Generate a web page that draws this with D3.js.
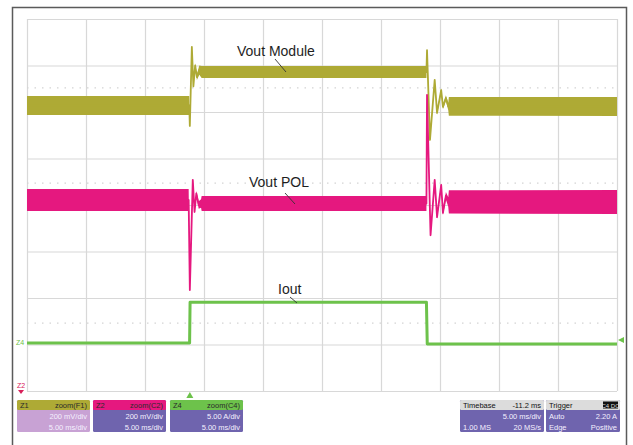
<!DOCTYPE html>
<html>
<head>
<meta charset="utf-8">
<script src="https://cdn.jsdelivr.net/npm/d3@7"></script>
<style>
  html, body { margin: 0; padding: 0; background: #fff; }
  svg { display: block; font-family: "Liberation Sans", Arial, sans-serif; }
</style>
</head>
<body>
<svg id="scope" width="633" height="445"></svg>
<script>
// Time axis: ms relative to the trigger (5 ms/div, 10 divisions, timebase -11.2 ms)
const timeDomain = [-13.8, 36.2];
const msPerDiv = 5;
// Vertical axis in screen divisions (8 divisions, centre = 0)
const divDomain = [-4, 4];

// Each trace: time (ms), centre level (div), half-width of the noise band (div)
const moduleTime   = [-13.8, -0.05, 0.0, 0.17, 0.3, 0.45, 0.6, 0.8, 1.0, 20.05, 20.1, 20.35, 20.75, 20.95, 21.3, 21.45, 21.7, 21.9, 21.95, 36.2];
const moduleLevel  = [2.14, 2.14, 1.70, 3.40, 2.55, 3.00, 2.75, 2.90, 2.86, 2.86, 3.33, 1.40, 2.69, 1.98, 2.47, 2.11, 2.30, 2.12, 2.12, 2.12];
const moduleNoise  = [0.204, 0.204, 0.03, 0.03, 0.03, 0.05, 0.06, 0.10, 0.13, 0.13, 0.03, 0.03, 0.03, 0.04, 0.04, 0.05, 0.06, 0.08, 0.20, 0.204];

const polTime  = [-13.8, -0.1, 0.0, 0.25, 0.4, 0.55, 0.75, 0.95, 1.0, 20.05, 20.1, 20.4, 20.75, 20.95, 21.3, 21.45, 21.7, 21.9, 21.95, 36.2];
const polLevel = [0.108, 0.108, -1.83, 0.54, -0.15, 0.25, 0.0, 0.032, 0.032, 0.032, 2.37, -0.65, 0.54, -0.26, 0.43, -0.17, 0.20, 0.065, 0.065, 0.065];
const polNoise = [0.237, 0.237, 0.03, 0.03, 0.03, 0.05, 0.08, 0.09, 0.16, 0.16, 0.03, 0.03, 0.03, 0.04, 0.04, 0.05, 0.08, 0.10, 0.25, 0.258];

const ioutTime  = [-13.8, -0.02, 0.02, 20.05, 20.12, 36.2];
const ioutLevel = [-2.97, -2.97, -2.09, -2.09, -2.99, -2.99];
const ioutNoise = [0.02, 0.02, 0.02, 0.02, 0.02, 0.02];

// Faint dotted reference levels (div)
const refLevels = [2.52, 0.47, -2.54];

// Trace annotations
const labelNames = ["Vout Module", "Vout POL", "Iout"];

// Readout boxes
const zoomNames   = ["Z1", "Z2", "Z4"];
const zoomSources = ["zoom(F1)", "zoom(C2)", "zoom(C4)"];
const zoomVScale  = ["200 mV/div", "200 mV/div", "5.00 A/div"];
const zoomHScale  = ["5.00 ms/div", "5.00 ms/div", "5.00 ms/div"];
const timebaseText = ["Timebase", "-11.2 ms", "5.00 ms/div", "1.00 MS", "20 MS/s"];
const triggerText  = ["Trigger", "Auto", "2.20 A", "Edge", "Positive"];

const colors = { module: "#aeaa35", pol: "#e5187f", iout: "#6dc24b", grid: "#d8d8d8" };

const svg = d3.select("#scope");
const plot = { left: 27, right: 617, top: 19, bottom: 391 };

const x = d3.scaleLinear().domain(timeDomain).range([plot.left, plot.right]);
const y = d3.scaleLinear().domain(divDomain).range([plot.bottom, plot.top]);

// Outer instrument frame
svg.append("rect")
  .attr("x", 12.5).attr("y", 7.5).attr("width", 614).attr("height", 460)
  .attr("fill", "#fff").attr("stroke", "#5a5a5a").attr("stroke-width", 1.5);

// Graticule via axes
const xGridVals = d3.range(11).map(i => timeDomain[0] + i * msPerDiv);
const yGridVals = d3.range(divDomain[0], divDomain[1] + 1);

const gx = svg.append("g").attr("transform", `translate(0,${plot.bottom})`)
  .call(d3.axisBottom(x).tickValues(xGridVals).tickSize(-(plot.bottom - plot.top)).tickFormat(""));
const gy = svg.append("g").attr("transform", `translate(${plot.left},0)`)
  .call(d3.axisLeft(y).tickValues(yGridVals).tickSize(-(plot.right - plot.left)).tickFormat(""));
[gx, gy].forEach(g => {
  g.select(".domain").remove();
  g.selectAll("line").attr("stroke", colors.grid).attr("stroke-width", 1.2);
});

// Dotted reference levels
svg.append("g").selectAll("line").data(refLevels).join("line")
  .attr("x1", plot.left).attr("x2", plot.right)
  .attr("y1", d => y(d)).attr("y2", d => y(d))
  .attr("stroke", "#d4d4d4").attr("stroke-width", 1.2).attr("stroke-dasharray", "1.5,6");

// Trace drawing: noise band + centre stroke
function makeTrace(t, lvl, noise) {
  return t.map((d, i) => ({ t: d, v: lvl[i], n: noise[i] }));
}
const traces = [
  { data: makeTrace(moduleTime, moduleLevel, moduleNoise), color: colors.module, w: 1.8 },
  { data: makeTrace(polTime, polLevel, polNoise), color: colors.pol, w: 1.8 },
  { data: makeTrace(ioutTime, ioutLevel, ioutNoise), color: colors.iout, w: 3 }
];

const area = d3.area().x(d => x(d.t)).y0(d => y(d.v - d.n)).y1(d => y(d.v + d.n));
const line = d3.line().x(d => x(d.t)).y(d => y(d.v));

const tg = svg.append("g");
traces.forEach(tr => {
  tg.append("path").attr("d", area(tr.data)).attr("fill", tr.color);
  tg.append("path").attr("d", line(tr.data)).attr("fill", "none")
    .attr("stroke", tr.color).attr("stroke-width", tr.w).attr("stroke-linejoin", "round");
});

// Annotations with leader lines
const labelPos = [
  { tx: 237, ty: 56, l: [[275, 59], [286, 72]] },
  { tx: 249, ty: 187, l: [[285, 193], [295, 204]] },
  { tx: 278, ty: 294, l: [[290, 297], [297, 303]] }
];
labelNames.forEach((name, i) => {
  const p = labelPos[i];
  svg.append("text").attr("x", p.tx).attr("y", p.ty)
    .attr("font-size", 14).attr("fill", "#1e1e1e").text(name);
  svg.append("line")
    .attr("x1", p.l[0][0]).attr("y1", p.l[0][1]).attr("x2", p.l[1][0]).attr("y2", p.l[1][1])
    .attr("stroke", "#333").attr("stroke-width", 0.9);
});

// Channel markers
svg.append("text").attr("x", 16).attr("y", 345).attr("font-size", 7)
  .attr("fill", colors.iout).text(zoomNames[2]);
svg.append("text").attr("x", 17).attr("y", 388).attr("font-size", 7)
  .attr("fill", "#d8205a").text(zoomNames[1]);
svg.append("path").attr("d", "M18,390 L24,390 L21,394 Z").attr("fill", "#d8205a");
svg.append("path").attr("d", `M${plot.right + 7},${y(ioutLevel[ioutLevel.length - 1]) - 7} l-6,3 l6,3 Z`)
  .attr("fill", colors.iout);
svg.append("path").attr("d", `M${x(0)},${plot.bottom + 1} l-3.5,6 l7,0 Z`).attr("fill", colors.iout);

// Readout boxes
const boxY = 400, headH = 10, rowH = 11;
function box(x0, w, headColor, bodyColor, headLeft, headRight, rows, headTextColor) {
  const g = svg.append("g").attr("font-size", 7.5);
  g.append("rect").attr("x", x0).attr("y", boxY).attr("width", w).attr("height", headH + 2 * rowH)
    .attr("rx", 1.5).attr("fill", bodyColor);
  g.append("rect").attr("x", x0).attr("y", boxY).attr("width", w).attr("height", headH)
    .attr("rx", 1.5).attr("fill", headColor);
  g.append("text").attr("x", x0 + 3).attr("y", boxY + 8).attr("fill", headTextColor).text(headLeft);
  g.append("text").attr("x", x0 + w - 3).attr("y", boxY + 8).attr("text-anchor", "end")
    .attr("fill", headTextColor).text(headRight);
  rows.forEach((r, i) => {
    const yy = boxY + headH + rowH * i + 8.5;
    if (r[0]) g.append("text").attr("x", x0 + 3).attr("y", yy).attr("fill", "#f4f0ff").text(r[0]);
    if (r[1]) g.append("text").attr("x", x0 + w - 3).attr("y", yy).attr("text-anchor", "end")
      .attr("fill", "#f4f0ff").text(r[1]);
  });
  return g;
}
const zoomX = [17, 93, 170];
const zoomHead = [colors.module, colors.pol, colors.iout];
const zoomBody = ["#c8a2d4", "#6f64ae", "#6f64ae"];
zoomNames.forEach((n, i) => {
  box(zoomX[i], 73, zoomHead[i], zoomBody[i], n, zoomSources[i],
      [["", zoomVScale[i]], ["", zoomHScale[i]]], "#2a2a2a");
});
box(460, 84, "#dcdcdc", "#6f64ae", timebaseText[0], timebaseText[1],
    [["", timebaseText[2]], [timebaseText[3], timebaseText[4]]], "#111");
const trig = box(546, 74, "#dcdcdc", "#6f64ae", triggerText[0], "",
    [[triggerText[1], triggerText[2]], [triggerText[3], triggerText[4]]], "#111");
// Trigger source badge
trig.append("rect").attr("x", 603).attr("y", boxY + 1.5).attr("width", 15).attr("height", 7).attr("fill", "#111");
trig.append("text").attr("x", 610.5).attr("y", boxY + 7.5).attr("text-anchor", "middle")
  .attr("font-size", 6).attr("fill", "#ddd").text("C4 DC");
</script>
</body>
</html>
